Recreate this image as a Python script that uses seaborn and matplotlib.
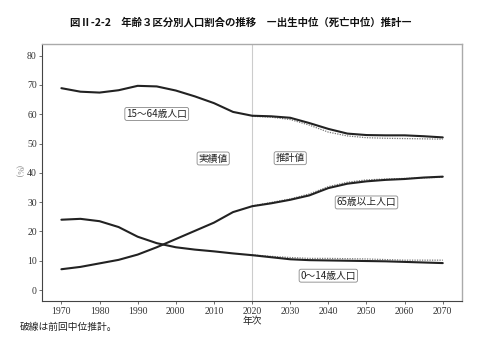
import numpy as np
import pandas as pd
import matplotlib
matplotlib.use("Agg")
import matplotlib.pyplot as plt
import seaborn as sns

years = [1970, 1975, 1980, 1985, 1990, 1995, 2000, 2005, 2010, 2015, 2020,
         2025, 2030, 2035, 2040, 2045, 2050, 2055, 2060, 2065, 2070]
age15_64 = [68.9, 67.7, 67.4, 68.2, 69.7, 69.5, 68.1, 66.1, 63.8, 60.8, 59.5,
            59.3, 58.8, 57.0, 55.0, 53.4, 52.9, 52.8, 52.8, 52.5, 52.1]
age65 = [7.1, 7.9, 9.1, 10.3, 12.1, 14.6, 17.4, 20.2, 23.0, 26.6, 28.6,
         29.6, 30.8, 32.3, 34.8, 36.3, 37.1, 37.6, 37.9, 38.4, 38.7]
age0_14 = [24.0, 24.3, 23.5, 21.5, 18.2, 16.0, 14.6, 13.8, 13.2, 12.5, 11.9,
           11.2, 10.5, 10.2, 10.1, 10.0, 9.9, 9.8, 9.6, 9.4, 9.2]

prev_years = [2020, 2025, 2030, 2035, 2040, 2045, 2050, 2055, 2060, 2065, 2070]
prev15_64 = [59.3, 59.0, 58.2, 56.3, 53.9, 52.6, 52.0, 51.8, 51.7, 51.6, 51.5]
prev65 = [28.7, 29.9, 31.1, 32.8, 35.3, 36.8, 37.6, 37.9, 38.1, 38.3, 38.5]
prev0_14 = [12.0, 11.5, 11.1, 10.8, 10.8, 10.7, 10.6, 10.4, 10.2, 10.2, 10.2]

yticks = [0, 10, 20, 30, 40, 50, 60, 70, 80]
xticks = [1970, 1980, 1990, 2000, 2010, 2020, 2030, 2040, 2050, 2060, 2070]

title = "図Ⅱ-2-2　年齢３区分別人口割合の推移　―出生中位（死亡中位）推計―"
note = "破線は前回中位推計。"

sns.set_theme(style="white")
plt.rcParams['font.family'] = ['Noto Sans CJK JP', 'DejaVu Sans']

cur = pd.DataFrame({"year": years * 3,
                    "value": age15_64 + age65 + age0_14,
                    "group": ["15-64"] * len(years) + ["65+"] * len(years) + ["0-14"] * len(years)})
prev = pd.DataFrame({"year": prev_years * 3,
                     "value": prev15_64 + prev65 + prev0_14,
                     "group": ["15-64"] * len(prev_years) + ["65+"] * len(prev_years) + ["0-14"] * len(prev_years)})

fig = plt.figure(figsize=(4.95, 3.46), dpi=100)
ax = fig.add_axes([0.0855, 0.130, 0.8475, 0.743])

ax.axvline(2020, color="#cccccc", lw=0.8, zorder=0)

sns.lineplot(data=prev, x="year", y="value", units="group", estimator=None,
             color="#777777", lw=0.9, linestyle=(0, (1, 1)), ax=ax)
sns.lineplot(data=cur, x="year", y="value", units="group", estimator=None,
             color="#222222", lw=1.5, ax=ax)

ax.set_xlim(1965, 2075)
ax.set_ylim(-3.75, 84)
ax.set_xticks(xticks)
ax.set_yticks(yticks)
serif = ['Liberation Serif', 'DejaVu Serif']
for lab in ax.get_xticklabels() + ax.get_yticklabels():
    lab.set_family(serif)
    lab.set_fontsize(7)
    lab.set_color("#333333")
ax.tick_params(axis="both", which="both", length=2.5, width=0.6, color="#555555", pad=1.5,
               left=True, bottom=True)
ax.set_xlabel("年次", fontsize=7, labelpad=0, color="#222222")
ax.set_ylabel("")
ax.text(-0.055, 0.505, "(%)", transform=ax.transAxes, rotation=270, fontsize=6,
        color="#888888", ha="center", va="center", family=serif)

for side in ["left", "bottom"]:
    ax.spines[side].set_color("#444444")
    ax.spines[side].set_linewidth(0.8)
for side in ["top", "right"]:
    ax.spines[side].set_color("#aaaaaa")
    ax.spines[side].set_linewidth(1.0)

box = dict(boxstyle="round,pad=0.15,rounding_size=0.2", fc="white", ec="#888888", lw=0.6)
labels = [("15～64歳人口", 1995, 60.1), ("実績値", 2009.8, 44.9), ("推計値", 2030, 45.0),
          ("65歳以上人口", 2050, 29.9), ("0～14歳人口", 2040, 4.9)]
for t, x, y in labels:
    ax.text(x, y, t, fontsize=7, ha="center", va="center", bbox=box, color="#222222")

fig.text(241 / 495, 1 - 22 / 346, title, fontsize=7.5, fontweight="bold", ha="center",
         va="center", color="#111111")
fig.text(20 / 495, 1 - 327 / 346, note, fontsize=7, ha="left", va="center", color="#222222")

fig.savefig("out.png", dpi=100)
